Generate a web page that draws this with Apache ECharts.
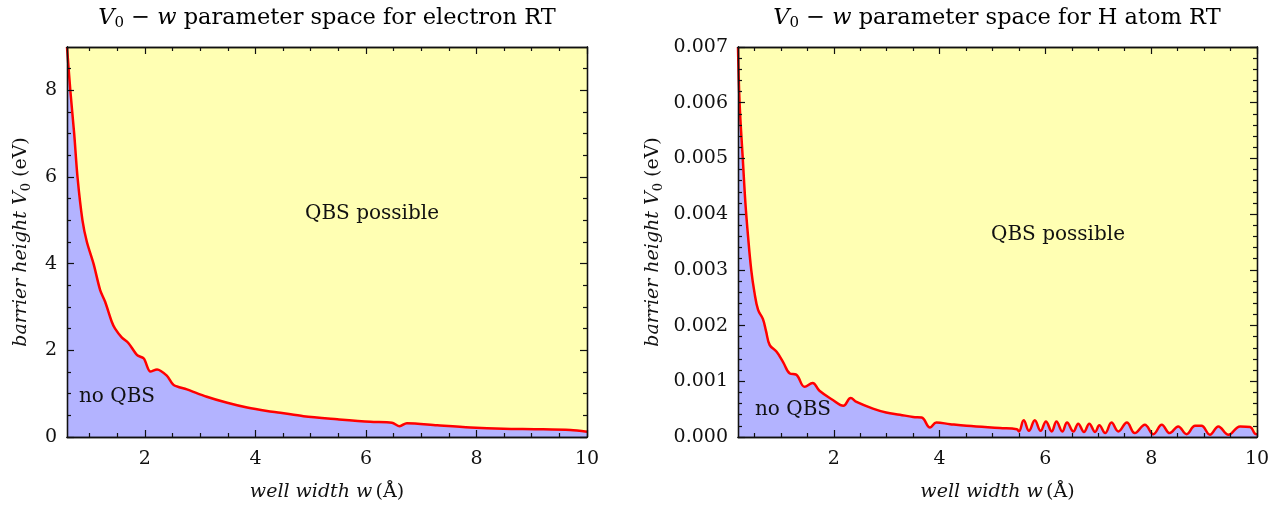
<!DOCTYPE html>
<html>
<head>
<meta charset="utf-8">
<script src="https://cdn.jsdelivr.net/npm/echarts@6/dist/echarts.min.js"></script>
<style>
  html, body { margin: 0; padding: 0; background: #fff; }
  #chart { width: 1278px; height: 506px; }
</style>
</head>
<body>
<div id="chart"></div>
<script>
// electron RT boundary (well width in Angstrom, barrier height in eV)
var elecW = [0.59, 0.65, 0.72, 0.78, 0.87, 0.95, 1.07, 1.19, 1.28, 1.40, 1.46, 1.58, 1.70, 1.86, 1.98, 2.10, 2.22, 2.40, 2.52, 2.76,
  3.12, 3.49, 3.85, 4.21, 4.45, 4.87, 5.48, 6.08, 6.47, 6.61, 6.74, 7.29, 7.89, 8.49, 9.10, 9.70, 10.0];
var elecV = [9.0, 8.0, 7.0, 6.0, 5.0, 4.5, 4.0, 3.39, 3.12, 2.66, 2.50, 2.30, 2.17, 1.89, 1.81, 1.51, 1.56, 1.41, 1.20, 1.10,
  0.93, 0.79, 0.68, 0.60, 0.56, 0.48, 0.41, 0.35, 0.33, 0.25, 0.32, 0.27, 0.22, 0.19, 0.18, 0.16, 0.12];

// H atom RT boundary
var hW = [0.19, 0.22, 0.28, 0.33, 0.38, 0.44, 0.50, 0.57, 0.66, 0.72, 0.79, 0.92, 1.04, 1.17, 1.29, 1.45, 1.60, 1.73, 1.99, 2.18,
  2.32, 2.43, 2.74, 2.99, 3.25, 3.50, 3.66, 3.82, 3.94, 4.20, 4.51, 5.14, 5.46, 5.50,
  5.59, 5.69, 5.80, 5.91, 6.01, 6.12, 6.21, 6.32, 6.41, 6.53, 6.62, 6.73, 6.83, 6.94, 7.02, 7.13, 7.25, 7.38, 7.54, 7.69,
  7.88, 8.04, 8.20, 8.35, 8.51, 8.67, 8.83, 8.95, 9.11, 9.27, 9.46, 9.68, 9.87, 9.96, 10.0];
var hV = [0.0070, 0.0060, 0.0050, 0.0042, 0.0036, 0.0030, 0.0026, 0.00228, 0.00212, 0.0019, 0.00165, 0.00153, 0.00135, 0.00114, 0.00112, 0.00090, 0.00097, 0.00083, 0.00066, 0.00056,
  0.00070, 0.00063, 0.00051, 0.00044, 0.00040, 0.00036, 0.00035, 0.00017, 0.00026, 0.00023, 0.00020, 0.00016, 0.00014, 0.00010,
  0.00030, 0.00011, 0.00030, 0.00011, 0.00028, 0.00010, 0.00028, 0.00010, 0.00026, 0.00010, 0.00024, 0.00009, 0.00024, 0.00009, 0.00021, 0.00007, 0.00026, 0.00010, 0.00026, 0.00007,
  0.00022, 0.00005, 0.00022, 0.00007, 0.00019, 0.00005, 0.00020, 0.00020, 0.00004, 0.00019, 0.00004, 0.00019, 0.00018, 0.00006, 0.00005];

// ticks
var xMajor = [2, 4, 6, 8, 10];
var xMinor = [0.5, 1, 1.5, 2.5, 3, 3.5, 4.5, 5, 5.5, 6.5, 7, 7.5, 8.5, 9, 9.5];
var elecYMajor = [0, 2, 4, 6, 8];
var elecYMinor = [0.5, 1, 1.5, 2.5, 3, 3.5, 4.5, 5, 5.5, 6.5, 7, 7.5, 8.5];
var hYMajor = [0, 0.001, 0.002, 0.003, 0.004, 0.005, 0.006, 0.007];
var hYMinor = [];
for (var k = 1; k < 35; k++) { if (k % 5) hYMinor.push(k * 0.0002); }

var FONT = 'DejaVu Serif';
var ink = '#111111';

var rich = {
  i: { fontFamily: FONT, fontStyle: 'italic', fontSize: 19, color: ink },
  r: { fontFamily: FONT, fontSize: 19, color: ink },
  s: { fontFamily: FONT, fontSize: 13, color: ink, padding: [10, 0, 0, 0] }
};
var titleRich = {
  i: { fontFamily: FONT, fontStyle: 'italic', fontSize: 22.5, color: ink },
  r: { fontFamily: FONT, fontSize: 22.5, color: ink },
  s: { fontFamily: FONT, fontSize: 15, color: ink, padding: [11, 0, 0, 0] }
};

function axisSet(dim, grid, min, max, major, minor, pos, other, fmt, name, nameGap) {
  var main = {
    type: 'value', gridIndex: grid, position: pos, offset: 0, min: min, max: max, z: 10,
    axisLine: { show: true, onZero: false, lineStyle: { color: ink, width: 1.3 } },
    axisTick: { show: true, inside: true, length: 7, customValues: major, lineStyle: { color: ink, width: 1.2 } },
    axisLabel: { show: true, customValues: major, margin: dim === 'x' ? 13 : 10,
      fontFamily: FONT, fontSize: 19, color: ink, formatter: fmt },
    splitLine: { show: false },
    name: name, nameLocation: 'middle', nameGap: nameGap, nameTextStyle: { rich: rich }
  };
  if (dim === 'y') main.nameRotate = 90;
  var mk = function (p, vals, len) {
    return {
      type: 'value', gridIndex: grid, position: p, offset: 0, min: min, max: max, z: 10,
      axisLine: { show: true, onZero: false, lineStyle: { color: ink, width: 1.3 } },
      axisTick: { show: true, inside: true, length: len, customValues: vals, lineStyle: { color: ink, width: 1.2 } },
      axisLabel: { show: false }, splitLine: { show: false }
    };
  };
  return [main, mk(pos, minor, 4), mk(other, major, 7), mk(other, minor, 4)];
}

var xName = '{i|well width w} {r|(Å)}';
var yName = '{i|barrier height V}{s|0}{r| (eV)}';

var xAxes = [].concat(
  axisSet('x', 0, 0.59, 10, xMajor, xMinor, 'bottom', 'top', null, xName, 46),
  axisSet('x', 1, 0.19, 10, xMajor, xMinor, 'bottom', 'top', null, xName, 46)
);
var yAxes = [].concat(
  axisSet('y', 0, 0, 9, elecYMajor, elecYMinor, 'left', 'right', null, yName, 34),
  axisSet('y', 1, 0, 0.007, hYMajor, hYMinor, 'left', 'right',
    function (v) { return v.toFixed(3); }, yName, 73)
);

var option = {
  animation: false,
  backgroundColor: '#ffffff',
  grid: [
    { left: 67, top: 47, width: 520, height: 390, show: true, backgroundColor: '#ffffb3', borderWidth: 0, outerBoundsMode: 'none', containLabel: false },
    { left: 738, top: 47, width: 519, height: 390, show: true, backgroundColor: '#ffffb3', borderWidth: 0, outerBoundsMode: 'none', containLabel: false }
  ],
  xAxis: xAxes,
  yAxis: yAxes,
  series: [
    {
      type: 'line', xAxisIndex: 0, yAxisIndex: 0, showSymbol: false, smooth: 0.3,
      data: elecW.map(function (w, i) { return [w, elecV[i]]; }),
      lineStyle: { color: '#ff0000', width: 2.5 },
      areaStyle: { color: '#b3b3ff', opacity: 1 }
    },
    {
      type: 'line', xAxisIndex: 4, yAxisIndex: 4, showSymbol: false, smooth: 0.4,
      data: hW.map(function (w, i) { return [w, hV[i]]; }),
      lineStyle: { color: '#ff0000', width: 2.5 },
      areaStyle: { color: '#b3b3ff', opacity: 1 }
    }
  ],
  graphic: [
    { type: 'text', x: 327, y: 18, style: { text: '{i|V}{s|0}{r| − }{i|w}{r| parameter space for electron RT}', rich: titleRich, align: 'center', verticalAlign: 'middle' } },
    { type: 'text', x: 997, y: 18, style: { text: '{i|V}{s|0}{r| − }{i|w}{r| parameter space for H atom RT}', rich: titleRich, align: 'center', verticalAlign: 'middle' } },
    { type: 'text', x: 372, y: 214, z: 10, style: { text: 'QBS possible', font: '20px "DejaVu Serif"', fill: ink, align: 'center', verticalAlign: 'middle' } },
    { type: 'text', x: 117, y: 397, z: 10, style: { text: 'no QBS', font: '20px "DejaVu Serif"', fill: ink, align: 'center', verticalAlign: 'middle' } },
    { type: 'text', x: 1058, y: 235, z: 10, style: { text: 'QBS possible', font: '20px "DejaVu Serif"', fill: ink, align: 'center', verticalAlign: 'middle' } },
    { type: 'text', x: 793, y: 410, z: 10, style: { text: 'no QBS', font: '20px "DejaVu Serif"', fill: ink, align: 'center', verticalAlign: 'middle' } }
  ]
};

var chart = echarts.init(document.getElementById('chart'));
chart.setOption(option);
window.addEventListener('resize', function () { chart.resize(); });
</script>
</body>
</html>
